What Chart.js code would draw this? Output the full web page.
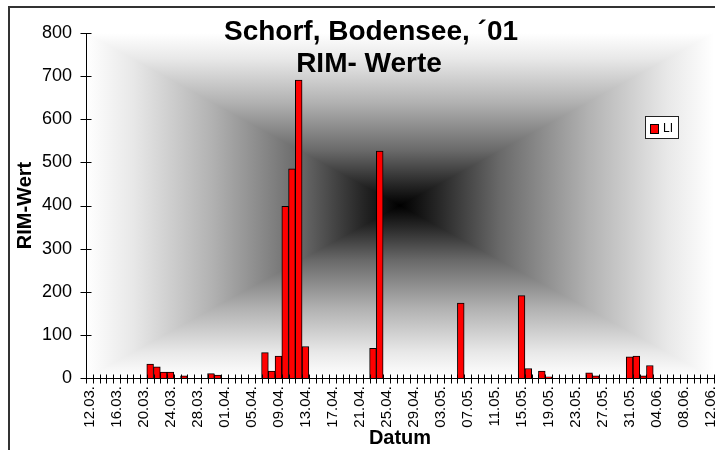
<!DOCTYPE html>
<html>
<head>
<meta charset="utf-8">
<script src="https://cdn.jsdelivr.net/npm/chart.js@4/dist/chart.umd.min.js"></script>
<style>
  html, body { margin: 0; padding: 0; background: #fff; }
  #wrap { width: 715px; height: 450px; }
</style>
</head>
<body>
<div id="wrap"><canvas id="rim" width="715" height="450"></canvas></div>
<script>
// Categories: one per day, 12.03. - 12.06.
const dates = [
  "12.03.", "13.03.", "14.03.", "15.03.", "16.03.", "17.03.", "18.03.", "19.03.", "20.03.", "21.03.",
  "22.03.", "23.03.", "24.03.", "25.03.", "26.03.", "27.03.", "28.03.", "29.03.", "30.03.", "31.03.",
  "01.04.", "02.04.", "03.04.", "04.04.", "05.04.", "06.04.", "07.04.", "08.04.", "09.04.", "10.04.",
  "11.04.", "12.04.", "13.04.", "14.04.", "15.04.", "16.04.", "17.04.", "18.04.", "19.04.", "20.04.",
  "21.04.", "22.04.", "23.04.", "24.04.", "25.04.", "26.04.", "27.04.", "28.04.", "29.04.", "30.04.",
  "01.05.", "02.05.", "03.05.", "04.05.", "05.05.", "06.05.", "07.05.", "08.05.", "09.05.", "10.05.",
  "11.05.", "12.05.", "13.05.", "14.05.", "15.05.", "16.05.", "17.05.", "18.05.", "19.05.", "20.05.",
  "21.05.", "22.05.", "23.05.", "24.05.", "25.05.", "26.05.", "27.05.", "28.05.", "29.05.", "30.05.",
  "31.05.", "01.06.", "02.06.", "03.06.", "04.06.", "05.06.", "06.06.", "07.06.", "08.06.", "09.06.",
  "10.06.", "11.06.", "12.06."
];

// Only every 4th day gets a label
const tickDates = [
  "12.03.", "16.03.", "20.03.", "24.03.", "28.03.", "01.04.", "05.04.", "09.04.", "13.04.", "17.04.",
  "21.04.", "25.04.", "29.04.", "03.05.", "07.05.", "11.05.", "15.05.", "19.05.", "23.05.", "27.05.",
  "31.05.", "04.06.", "08.06.", "12.06."
];

// RIM values, series "LI" (null = no value that day)
const liValues = [
  // 12.03. - 31.03.
  null, null, null, null, null, null, null, null, null, 32,
  26, 14, 14, null, 5, null, null, null, 10, 7,
  // 01.04. - 30.04.
  null, null, null, null, null, null, 59, 16, 51, 398,
  485, 691, 73, null, null, null, null, null, null, null,
  null, null, 69, 526, null, null, null, null, null, null,
  // 01.05. - 31.05.
  null, null, null, null, null, 174, null, null, null, null,
  null, null, null, null, 191, 22, null, 16, 3, null,
  null, null, null, null, 12, 5, null, null, null, null,
  49,
  // 01.06. - 12.06.
  51, 5, 29, null, null, null, null, null, null, null,
  null, null
];

const yTicks = [0, 100, 200, 300, 400, 500, 600, 700, 800];
const titleLines = ["Schorf, Bodensee, \u00B401", "RIM- Werte"];
const seriesName = "LI";

// frame, pyramid gradient in the plot area, crossing tick marks, title and legend
const excelLook = {
  id: "excelLook",
  beforeDraw(chart) {
    const ctx = chart.ctx;
    ctx.save();
    ctx.fillStyle = "#ffffff";
    ctx.fillRect(0, 0, chart.width, chart.height);
    ctx.fillStyle = "#333333";
    ctx.fillRect(8, 6, chart.width - 8, 2);
    ctx.fillRect(8, 6, 2, chart.height - 6);
    ctx.restore();
  },
  beforeDatasetsDraw(chart) {
    const ctx = chart.ctx;
    const { left, top, right, bottom } = chart.chartArea;
    const cx = (left + right) / 2, cy = (top + bottom) / 2;
    const stops = [[0, "#000000"], [0.12, "#262626"], [0.32, "#6a6a6a"], [0.6, "#b2b2b2"], [0.85, "#e8e8e8"], [1, "#ffffff"]];
    const grad = (x0, y0, x1, y1) => {
      const g = ctx.createLinearGradient(x0, y0, x1, y1);
      stops.forEach(s => g.addColorStop(s[0], s[1]));
      return g;
    };
    ctx.save();
    ctx.fillStyle = grad(cx, cy, left, cy);
    ctx.fillRect(left, top, cx - left, bottom - top);
    ctx.fillStyle = grad(cx, cy, right, cy);
    ctx.fillRect(cx, top, right - cx, bottom - top);
    ctx.beginPath();
    ctx.moveTo(left, top); ctx.lineTo(right, top); ctx.lineTo(cx, cy); ctx.closePath();
    ctx.fillStyle = grad(cx, cy, cx, top);
    ctx.fill();
    ctx.beginPath();
    ctx.moveTo(left, bottom); ctx.lineTo(right, bottom); ctx.lineTo(cx, cy); ctx.closePath();
    ctx.fillStyle = grad(cx, cy, cx, bottom);
    ctx.fill();
    ctx.restore();
  },
  afterDatasetsDraw(chart) {
    const ctx = chart.ctx;
    const { left, top, right } = chart.chartArea;
    const xs = chart.scales.x, ys = chart.scales.y;
    const y0 = Math.round(ys.getPixelForValue(0)) + 0.5;
    const ax = Math.round(left) + 0.5;
    ctx.save();
    ctx.strokeStyle = "#000000";
    ctx.lineWidth = 1;
    ctx.beginPath();
    ctx.moveTo(ax, top); ctx.lineTo(ax, y0);
    ctx.moveTo(ax, y0); ctx.lineTo(right, y0);
    yTicks.forEach(v => {
      const py = Math.round(ys.getPixelForValue(v)) + 0.5;
      ctx.moveTo(ax - 6, py); ctx.lineTo(ax + 5, py);
    });
    const step = xs.getPixelForValue(1) - xs.getPixelForValue(0);
    for (let i = 0; i <= dates.length; i++) {
      const px = Math.round(xs.getPixelForValue(i) - step / 2) + 0.5;
      ctx.moveTo(px, y0 - 4); ctx.lineTo(px, y0 + 5);
    }
    ctx.stroke();

    // title
    ctx.fillStyle = "#000000";
    ctx.textAlign = "center";
    ctx.textBaseline = "middle";
    ctx.font = "bold 28px Arial, 'Liberation Sans', sans-serif";
    ctx.fillText(titleLines[0], 371, 32);
    ctx.fillText(titleLines[1], 369, 64);

    // legend
    ctx.fillStyle = "#ffffff";
    ctx.fillRect(645, 116, 33, 22);
    ctx.strokeStyle = "#222222";
    ctx.strokeRect(645.5, 116.5, 33, 22);
    ctx.fillStyle = "#ff0000";
    ctx.fillRect(651, 125, 7, 8);
    ctx.strokeStyle = "#000000";
    ctx.strokeRect(650.5, 124.5, 8, 9);
    ctx.fillStyle = "#000000";
    ctx.textAlign = "left";
    ctx.font = "12px Arial, 'Liberation Sans', sans-serif";
    ctx.fillText(seriesName, 663, 129);
    ctx.restore();
  }
};

new Chart(document.getElementById("rim"), {
  type: "bar",
  data: {
    labels: dates,
    datasets: [{
      label: seriesName,
      data: liValues,
      backgroundColor: "#ff0000",
      borderColor: "#000000",
      borderWidth: 1,
      barPercentage: 1,
      categoryPercentage: 1
    }]
  },
  options: {
    responsive: false,
    animation: false,
    devicePixelRatio: 1,
    layout: { autoPadding: false, padding: { top: 33, right: 1, left: 0, bottom: 0 } },
    plugins: {
      legend: { display: false },
      tooltip: { enabled: false }
    },
    scales: {
      x: {
        grid: { display: false, drawTicks: false },
        border: { display: false },
        afterFit(scale) { scale.height = 72; scale.paddingLeft = 0; scale.paddingRight = 0; },
        ticks: {
          autoSkip: false,
          minRotation: 90,
          maxRotation: 90,
          padding: 8,
          color: "#000000",
          font: { family: "Arial, 'Liberation Sans', sans-serif", size: 15 },
          callback(value, index) {
            const lbl = dates[index];
            return tickDates.includes(lbl) ? lbl : "";
          }
        },
        title: {
          display: true,
          text: "Datum",
          color: "#000000",
          font: { family: "Arial, 'Liberation Sans', sans-serif", size: 20, weight: "bold" },
          padding: { top: 0, bottom: 0 }
        }
      },
      y: {
        min: 0,
        max: 800,
        grid: { display: false, drawTicks: false },
        border: { display: false },
        afterFit(scale) { scale.width = 86; scale.paddingTop = 0; scale.paddingBottom = 0; },
        ticks: {
          stepSize: 100,
          padding: 14,
          color: "#000000",
          font: { family: "Arial, 'Liberation Sans', sans-serif", size: 18 }
        },
        title: {
          display: true,
          text: "RIM-Wert",
          color: "#000000",
          font: { family: "Arial, 'Liberation Sans', sans-serif", size: 20, weight: "bold" },
          padding: { top: 13, bottom: 0 }
        }
      }
    }
  },
  plugins: [excelLook]
});
</script>
</body>
</html>
